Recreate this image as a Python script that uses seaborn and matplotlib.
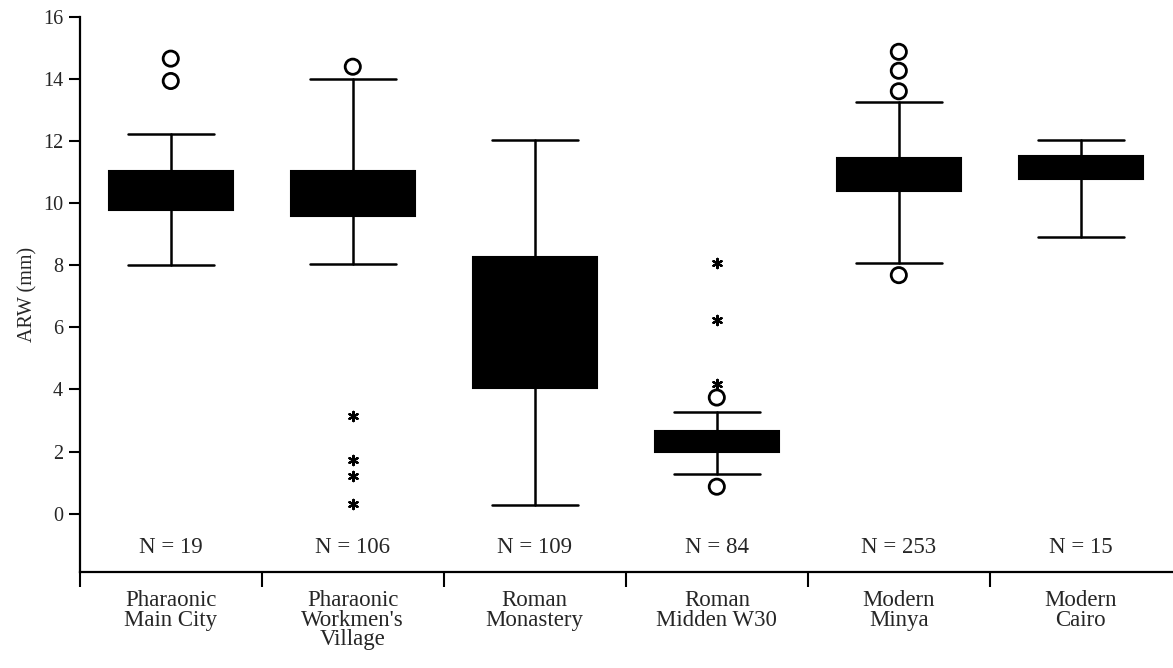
import matplotlib
matplotlib.use("Agg")
import numpy as np
import pandas as pd
import seaborn as sns
import matplotlib.pyplot as plt

# Data
groups = ["Pharaonic\nMain City", "Pharaonic\nWorkmen's\nVillage", "Roman\nMonastery",
          "Roman\nMidden W30", "Modern\nMinya", "Modern\nCairo"]
n_counts = [19, 106, 109, 84, 253, 15]
q1 = [9.77, 9.58, 4.06, 2.00, 10.39, 10.77]
median = [10.4, 10.3, 6.0, 2.3, 10.9, 11.1]
q3 = [11.03, 11.03, 8.26, 2.65, 11.45, 11.52]
whisker_low = [8.00, 8.03, 0.29, 1.29, 8.06, 8.90]
whisker_high = [12.23, 14.00, 12.03, 3.26, 13.26, 12.03]
outliers = [[13.93, 14.65], [14.39], [], [3.74, 0.87], [13.60, 14.26, 14.87, 7.68], []]
extremes = [[], [3.13, 1.74, 1.23, 0.32], [], [4.16, 6.23, 8.06], [], []]

sns.set_theme(style="ticks")
plt.rcParams['font.family'] = ['Liberation Serif', 'DejaVu Serif']

fig, ax = plt.subplots(figsize=(11.73, 6.68), dpi=100)
fig.subplots_adjust(left=0.068, right=0.999, bottom=0.144, top=0.975)

# Boxes from summary statistics
stats = []
for i, g in enumerate(groups):
    stats.append(dict(label=g, q1=q1[i], med=median[i], q3=q3[i],
                      whislo=whisker_low[i], whishi=whisker_high[i], fliers=[]))
ax.bxp(stats, positions=range(len(groups)), widths=0.68, capwidths=0.47,
       patch_artist=True, showfliers=False,
       boxprops=dict(facecolor="black", edgecolor="black", linewidth=1.5),
       medianprops=dict(color="black", linewidth=1.5),
       whiskerprops=dict(color="black", linewidth=1.8),
       capprops=dict(color="black", linewidth=1.8))

# Outliers (circles) and extremes (asterisks)
out_df = pd.DataFrame([(i, v) for i, vals in enumerate(outliers) for v in vals],
                      columns=["pos", "value"])
ext_df = pd.DataFrame([(i, v) for i, vals in enumerate(extremes) for v in vals],
                      columns=["pos", "value"])
sns.scatterplot(data=out_df, x="pos", y="value", marker="o", s=120,
                facecolor="none", edgecolor="black", linewidth=2, ax=ax, zorder=5)
sns.scatterplot(data=ext_df, x="pos", y="value", marker=(6, 2, 0), s=45,
                color="black", edgecolor="black", linewidth=1.6, ax=ax, zorder=5)

# N labels
for i, n in enumerate(n_counts):
    ax.text(i, -1.1, f"N = {n}", ha="center", va="center", fontsize=16.5)

ax.set_xlim(-0.5, 5.5)
ax.set_ylim(-1.87, 16)
ax.set_xticks(range(len(groups)))
ax.set_xticklabels(groups, fontsize=16.5, linespacing=0.92)
ax.set_xticks(np.arange(-0.5, 5.5, 1), minor=True)
ax.tick_params(axis="x", which="major", length=0, pad=13)
ax.tick_params(axis="x", which="minor", length=11, width=1.5, direction="out", color="black")
ax.set_yticks(range(0, 17, 2))
ax.tick_params(axis="y", length=8, width=1.5, color="black", labelsize=14.5, pad=4)
ax.set_xlabel("")
ax.set_ylabel("ARW (mm)", fontsize=14.5, labelpad=4)

sns.despine(ax=ax)
for side in ["left", "bottom"]:
    ax.spines[side].set_linewidth(1.6)
    ax.spines[side].set_color("black")

fig.savefig("out.png", dpi=100)
